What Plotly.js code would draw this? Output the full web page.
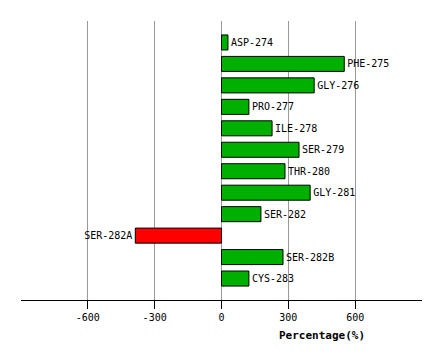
<!DOCTYPE html>
<html>
<head>
<meta charset="utf-8">
<script src="https://cdn.plot.ly/plotly-3.0.1.min.js"></script>
<style>html,body{margin:0;padding:0;background:#fff;}#chart{width:441px;height:361px;}</style>
</head>
<body>
<div id="chart"></div>
<script>
const residues = ["ASP-274","PHE-275","GLY-276","PRO-277","ILE-278","SER-279","THR-280","GLY-281","SER-282","SER-282A","SER-282B","CYS-283"];
const percentages = [29, 551, 416, 123, 227, 348, 285, 398, 177, -387, 276, 123];
const tickValues = [-600, -300, 0, 300, 600];
const tickLabels = ["-600", "-300", "0", "300", "600"];

const colors = percentages.map(v => v < 0 ? "#ff0000" : "#00b000");
const idx = residues.map((_, i) => i);

const trace = {
  type: "bar",
  orientation: "h",
  x: percentages,
  y: idx,
  width: 0.7,
  marker: {color: colors, line: {color: "#000", width: 1}},
  text: residues,
  textposition: "outside",
  cliponaxis: false,
  constraintext: "none",
  textfont: {family: "DejaVu Sans Mono", size: 10, color: "#000"},
  hoverinfo: "none"
};

const layout = {
  width: 441, height: 361,
  margin: {l: 21, r: 19, t: 21, b: 61},
  paper_bgcolor: "#fff", plot_bgcolor: "#fff",
  showlegend: false,
  bargap: 0.3,
  xaxis: {
    range: [-900, 900],
    tickvals: tickValues, ticktext: tickLabels,
    showgrid: true, gridcolor: "#999", gridwidth: 1,
    zeroline: false,
    showline: true, linecolor: "#000", linewidth: 1,
    ticks: "outside", ticklen: 8, tickcolor: "#000", tickwidth: 1,
    tickfont: {family: "DejaVu Sans Mono", size: 10, color: "#000"}
  },
  yaxis: {
    range: [12, -1],
    showticklabels: false, showgrid: false, zeroline: false, showline: false, ticks: ""
  },
  annotations: [{
    xref: "paper", yref: "paper",
    x: (321.7 - 21) / 401, y: -0.126,
    xanchor: "center", yanchor: "middle",
    text: "<b>Percentage(%)</b>", showarrow: false,
    font: {family: "DejaVu Sans Mono", size: 11, color: "#000"}
  }]
};

Plotly.newPlot("chart", [trace], layout, {staticPlot: true, displayModeBar: false});
</script>
</body>
</html>
